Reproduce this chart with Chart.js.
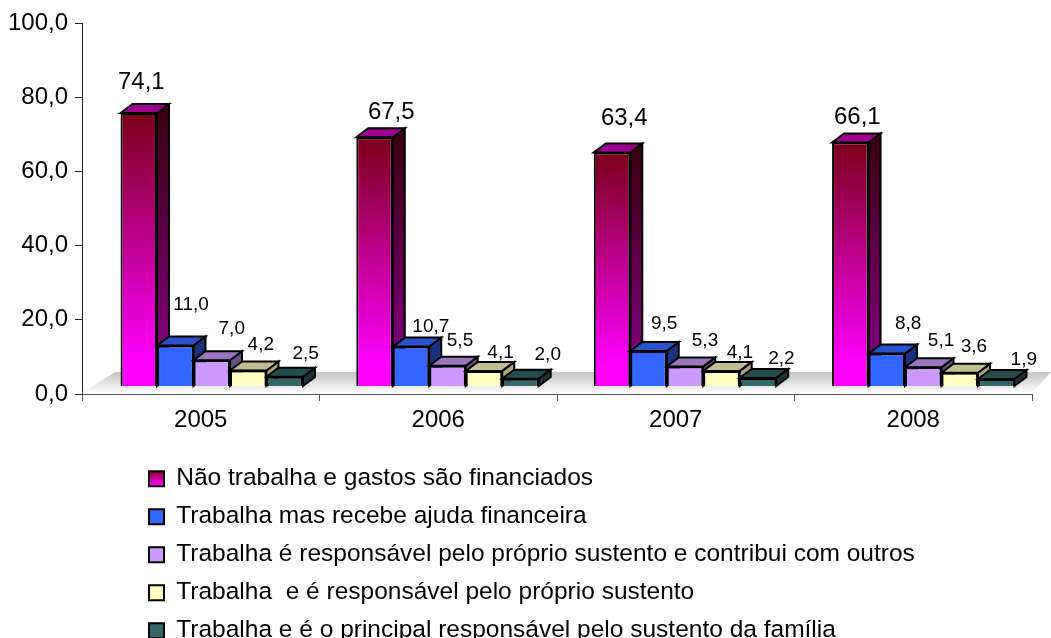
<!DOCTYPE html>
<html><head><meta charset="utf-8">
<style>html,body{margin:0;padding:0;background:#fff}#w{position:relative;width:1051px;height:638px;overflow:hidden}</style>
<script src="https://cdn.jsdelivr.net/npm/chart.js@4"></script>
</head><body><div id="w"><canvas id="c" width="1051" height="638"></canvas></div>
<script>
const categories = ['2005','2006','2007','2008'];
const seriesNames = [
 'Não trabalha e gastos são financiados',
 'Trabalha mas recebe ajuda financeira',
 'Trabalha é responsável pelo próprio sustento e contribui com outros',
 'Trabalha  e é responsável pelo próprio sustento',
 'Trabalha e é o principal responsável pelo sustento da família'
];
const naoTrabalha = [74.1,67.5,63.4,66.1];
const recebeAjuda = [11.0,10.7,9.5,8.8];
const contribui = [7.0,5.5,5.3,5.1];
const proprioSustento = [4.2,4.1,4.1,3.6];
const principal = [2.5,2.0,2.2,1.9];
const allSeries = [naoTrabalha,recebeAjuda,contribui,proprioSustento,principal];
const yTicks = [0,20,40,60,80,100];

// label nudges relative to each bar's front-top centre (styling only): per series, per category
const labelNudge = [
 [[2.5,-31],[16.7,-24.6],[12.2,-34.1],[7,-25.5]],
 [[15.8,-40.5],[19.8,-19.6],[15.6,-27.7],[21.4,-29.6]],
 [[20,-31.2],[12.5,-25],[20,-25.8],[17.8,-26.2]],
 [[12.6,-25.5],[16.6,-17.9],[18.4,-17.9],[14.2,-26]],
 [[21,-23.5],[27.3,-23.6],[23.5,-18.9],[27.6,-19.7]]
];
const faces = [
 {front:'#ff00ff',side:'#800080',top:'#a00090'},
 {front:'#3366ff',side:'#1a3380',top:'#2952cc'},
 {front:'#cc99ff',side:'#665080',top:'#9a76bf'},
 {front:'#ffffc0',side:'#a8a87c',top:'#bfbf90'},
 {front:'#336666',side:'#1a3333',top:'#264d4d'}
];
const groupShift=[11,9.25,9.25,10], SHIFT_Y=-8, DX=12, DY=9;
const FONT='"Liberation Sans", Arial, sans-serif';
const comma = (v)=>v.toFixed(1).replace('.',',');

function frontFill(ctx){
  const i=ctx.datasetIndex;
  if(i!==0) return faces[i].front;
  const s=ctx.chart.scales.yBars;
  if(!s||ctx.raw===undefined) return faces[0].front;
  const g=ctx.chart.ctx.createLinearGradient(0,s.getPixelForValue(ctx.raw),0,s.getPixelForValue(0));
  g.addColorStop(0,'#7a0018');g.addColorStop(0.92,'#ff00ff');g.addColorStop(1,'#ff00ff');
  return g;
}

const bars3d = {
 id:'bars3d',
 beforeLayout(chart){
  const lg=chart.legend;
  if(lg && !lg._rowPatched){
    const fit=lg.fit;
    lg.fit=function(){ this.maxWidth=800; fit.call(this); };
    lg._rowPatched=true;
  }
 },
 beforeDraw(chart){
  const lg=chart.legend;
  const it=lg.legendItems&&lg.legendItems[0];
  if(it){
    const t=lg.top+lg.options.labels.padding+3.4;
    const g=chart.ctx.createLinearGradient(0,t,0,t+15);
    g.addColorStop(0,'#7a0018');g.addColorStop(1,'#ff00ff');
    it.fillStyle=g;
  }
 },
 beforeDatasetsDraw(chart){
  const {ctx,scales:{x,y}}=chart;
  const b=y.getPixelForValue(0);
  ctx.save();
  const g=ctx.createLinearGradient(0,b-22,0,b);
  g.addColorStop(0,'#c4c4c4');g.addColorStop(1,'#ffffff');
  ctx.fillStyle=g;
  ctx.beginPath();
  ctx.moveTo(x.left,b-1);ctx.lineTo(x.left+33,b-22);ctx.lineTo(chart.width,b-22);ctx.lineTo(x.right,b-1);
  ctx.closePath();ctx.fill();
  ctx.restore();
 },
 // default painting runs right-to-left; skip it and paint left-to-right below
 beforeDatasetDraw(){ return false; },
 afterDatasetsDraw(chart){
  const {ctx,scales:{yBars}}=chart;
  allSeries.forEach((vals,i)=>{
    const f=faces[i], meta=chart.getDatasetMeta(i);
    meta.data.forEach((bar,k)=>{
      ctx.save();
      ctx.translate(groupShift[k],SHIFT_Y);
      bar.draw(ctx);
      ctx.lineWidth=2;ctx.strokeStyle='#000';ctx.lineJoin='miter';
      const p=bar.getProps(['x','y','base','width'],true);
      const l=p.x-p.width/2,r=p.x+p.width/2,t=p.y,b=yBars.getPixelForValue(0);
      let side=f.side;
      if(i===0){
        const g=ctx.createLinearGradient(0,t,0,b);
        g.addColorStop(0,'#3a0010');g.addColorStop(0.92,'#800080');g.addColorStop(1,'#800080');
        side=g;
      }
      ctx.fillStyle=side;
      ctx.beginPath();ctx.moveTo(r,t);ctx.lineTo(r+DX,t-DY);ctx.lineTo(r+DX,b-DY);ctx.lineTo(r,b);ctx.closePath();ctx.fill();ctx.stroke();
      ctx.fillStyle=f.top;
      ctx.beginPath();ctx.moveTo(l,t);ctx.lineTo(l+DX,t-DY);ctx.lineTo(r+DX,t-DY);ctx.lineTo(r,t);ctx.closePath();ctx.fill();ctx.stroke();
      ctx.restore();
    });
  });
  ctx.save();
  ctx.fillStyle='#000';ctx.textAlign='center';ctx.textBaseline='middle';
  allSeries.forEach((vals,i)=>{
    const meta=chart.getDatasetMeta(i);
    ctx.font=(i===0?'24px ':'19px ')+FONT;
    vals.forEach((v,k)=>{
      const bar=meta.data[k].getProps(['x','y'],true);
      const n=labelNudge[i][k];
      ctx.fillText(comma(v),bar.x+groupShift[k]+n[0],bar.y+SHIFT_Y+n[1]);
    });
  });
  ctx.restore();
 },
 afterLayout(chart){
  const lg=chart.legend;
  lg.left=135.5;lg.top=452.9;
 }
};

new Chart(document.getElementById('c'),{
 type:'bar',
 data:{labels:categories,datasets:allSeries.map((data,i)=>({
   label:seriesNames[i],data,yAxisID:'yBars',
   backgroundColor:frontFill,borderColor:'#000',borderWidth:2,
   barPercentage:1,categoryPercentage:0.768
 }))},
 options:{
  responsive:false,animation:false,
  layout:{padding:{top:23,right:19,left:0,bottom:0}},
  scales:{
   x:{offset:true,
      grid:{display:true,drawOnChartArea:false,tickLength:7,color:'#555',offset:true},
      border:{color:'#555',width:1},
      ticks:{padding:5,color:'#000',font:{family:FONT,size:24},maxRotation:0},
      afterFit(s){s.height=244-s.chart.legend.height;}
   },
   y:{min:0,max:100,position:'left',
      afterBuildTicks(s){s.ticks=yTicks.map(v=>({value:v}));},
      grid:{display:true,drawOnChartArea:false,tickLength:7,color:'#222'},
      border:{color:'#222',width:1},
      ticks:{padding:7,color:'#000',font:{family:FONT,size:24},callback:v=>comma(v)},
      afterFit(s){s.width=82;}
   },
   yBars:{display:false,min:0,max:100.7}
  },
  plugins:{
   tooltip:{enabled:false},
   legend:{position:'bottom',align:'start',
    labels:{boxWidth:15,boxHeight:15,padding:13.5,color:'#000',
     font:{family:FONT,size:24.5},
     generateLabels(chart){
      return chart.data.datasets.map((d,i)=>({text:d.label,fillStyle:faces[i].front,strokeStyle:'#000',lineWidth:2,datasetIndex:i,hidden:false}));
     }
    }
   }
  }
 },
 plugins:[bars3d]
});
</script></body></html>
